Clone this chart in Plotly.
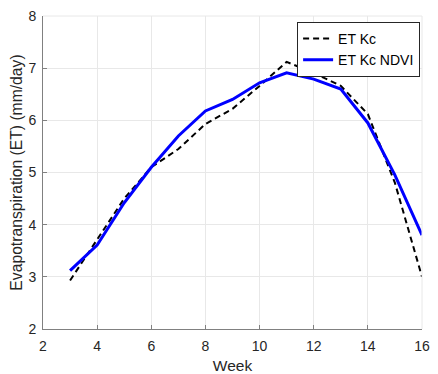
import plotly.graph_objects as go

weeks = [3, 4, 5, 6, 7, 8, 9, 10, 11, 12, 13, 14, 15, 16]
et_kc = [2.93, 3.72, 4.5, 5.1, 5.45, 5.93, 6.22, 6.66, 7.12, 6.91, 6.66, 6.12, 4.8, 3.0]
et_kc_ndvi = [3.12, 3.61, 4.42, 5.1, 5.7, 6.18, 6.4, 6.72, 6.91, 6.79, 6.6, 5.95, 4.95, 3.8]

x_ticks = [2, 4, 6, 8, 10, 12, 14, 16]
y_ticks = [2, 3, 4, 5, 6, 7, 8]

fig = go.Figure()
fig.add_trace(go.Scatter(x=weeks, y=et_kc, mode="lines", name="ET Kc",
                         line=dict(color="black", width=2, dash="6px,4px")))
fig.add_trace(go.Scatter(x=weeks, y=et_kc_ndvi, mode="lines", name="ET Kc NDVI",
                         line=dict(color="#0000ff", width=3)))

axis_common = dict(showgrid=True, gridcolor="#e8e8e8", gridwidth=1,
                   showline=True, linecolor="#808080", linewidth=1,
                   ticks="inside", ticklen=4, tickcolor="#808080",
                   tickfont=dict(family="Liberation Sans, Arial", size=14, color="#262626"),
                   zeroline=False, mirror=False, automargin=False,
                   ticklabeloverflow="allow")

# page body has an 8px default margin, so the figure is shifted by 8px
fig.update_layout(
    width=422, height=366,
    margin=dict(l=35, r=8, t=8, b=45),
    plot_bgcolor="white", paper_bgcolor="white",
    font=dict(family="Liberation Sans, Arial", color="#262626"),
    xaxis=dict(range=[2, 16], tickvals=x_ticks, ticklabelstandoff=4,
               title=dict(text="Week", font=dict(size=15.5), standoff=13), **axis_common),
    yaxis=dict(range=[2, 8], tickvals=y_ticks, ticklabelstandoff=3,
               title=dict(text="Evapotranspiration (ET) (mm/day)", font=dict(size=15.7), standoff=1),
               **axis_common),
    legend=dict(x=0.995, y=0.981, xanchor="right", yanchor="top",
                bordercolor="#262626", borderwidth=1, bgcolor="white",
                font=dict(size=14, color="black"), tracegroupgap=0,
                itemwidth=30),
    showlegend=True,
)
# light top and right frame (grid-like)
fig.add_shape(type="line", xref="paper", yref="paper", x0=0, x1=1, y0=1, y1=1,
              line=dict(color="#e8e8e8", width=1))
fig.add_shape(type="line", xref="paper", yref="paper", x0=1, x1=1, y0=0, y1=1,
              line=dict(color="#e8e8e8", width=1))

fig.write_html("out.html")
